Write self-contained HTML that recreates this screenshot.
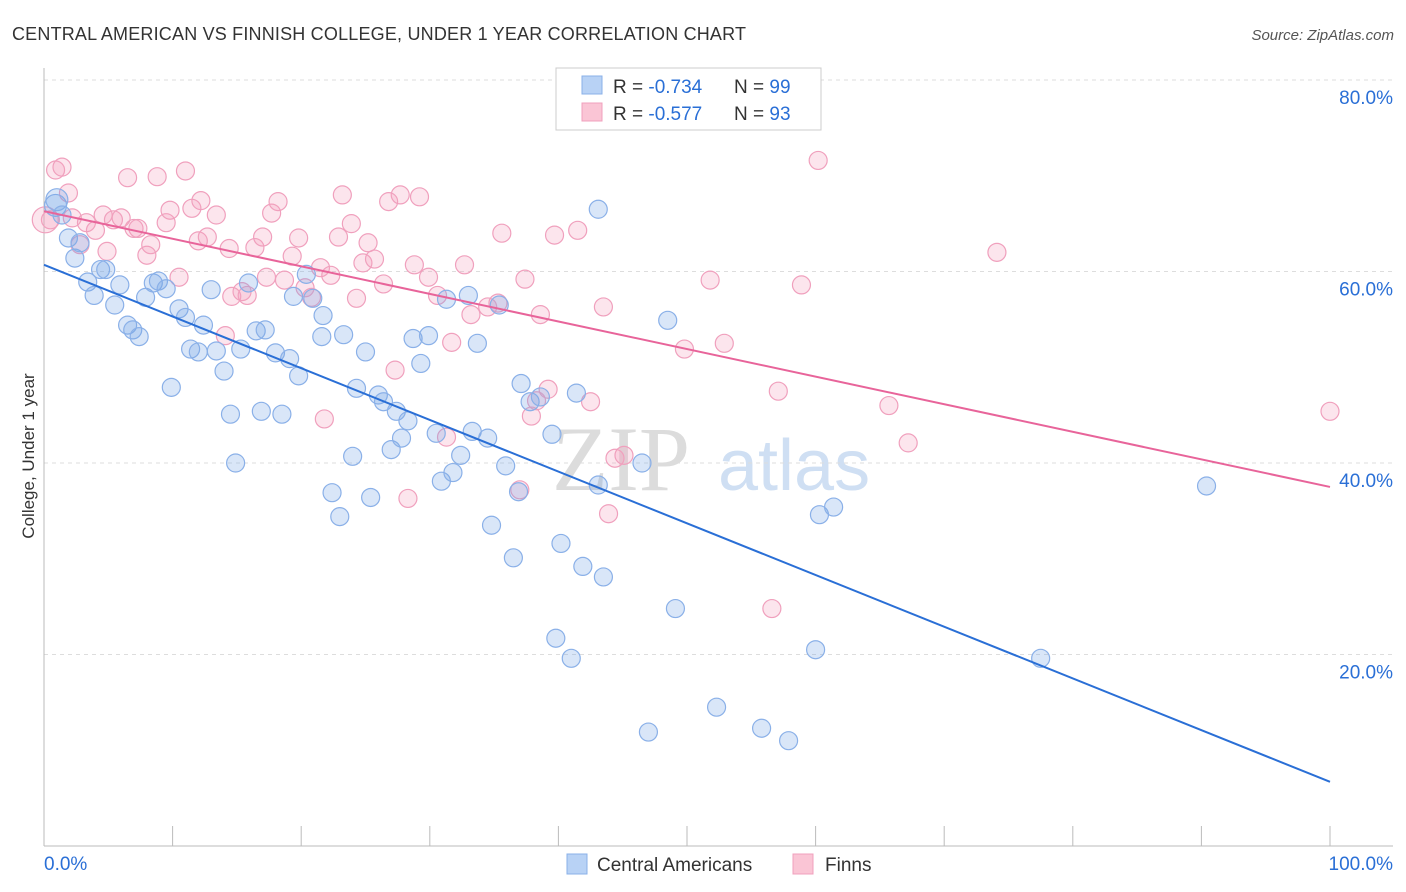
<!DOCTYPE html>
<html><head><meta charset="utf-8"><style>
body{margin:0;background:#fff;font-family:"Liberation Sans",sans-serif;}
#wrap{position:relative;width:1406px;height:892px;overflow:hidden;}
</style></head><body>
<div id="wrap">
<svg id="svg" width="1406" height="892" xmlns="http://www.w3.org/2000/svg">
<text x="12" y="40" font-size="18" fill="#333" textLength="734">CENTRAL AMERICAN VS FINNISH COLLEGE, UNDER 1 YEAR CORRELATION CHART</text>
<text x="1394" y="40" font-size="15" fill="#555" text-anchor="end" font-style="italic">Source: ZipAtlas.com</text>
<text x="34" y="456" font-size="17" fill="#333" text-anchor="middle" transform="rotate(-90 34 456)">College, Under 1 year</text>
<g>
<text x="552" y="490" font-size="92" fill="#dcdcdc" font-family="Liberation Serif,serif">ZIP</text>
<text x="718" y="490" font-size="72" fill="#cfdff3">atlas</text>
</g>
<g id="grid"></g><g id="axes"></g><g id="pts"></g><g id="lines"></g>
<g>
<rect x="556" y="68" width="265" height="62" fill="#fff" stroke="#ccc"/>
<rect x="582" y="76" width="20" height="18" fill="#b8d2f5" stroke="#8ab0e8"/>
<rect x="582" y="103" width="20" height="18" fill="#fac5d5" stroke="#f0a0bd"/>
<text x="613" y="93" font-size="19" fill="#333">R = <tspan fill="#2a6fd6">-0.734</tspan></text>
<text x="734" y="93" font-size="19" fill="#333">N = <tspan fill="#2a6fd6">99</tspan></text>
<text x="613" y="120" font-size="19" fill="#333">R = <tspan fill="#2a6fd6">-0.577</tspan></text>
<text x="734" y="120" font-size="19" fill="#333">N = <tspan fill="#2a6fd6">93</tspan></text>
</g>
<g>
<rect x="567" y="854" width="20" height="20" fill="#b8d2f5" stroke="#8ab0e8"/>
<text x="597" y="871" font-size="19" fill="#333">Central Americans</text>
<rect x="793" y="854" width="20" height="20" fill="#fac5d5" stroke="#f0a0bd"/>
<text x="825" y="871" font-size="19" fill="#333">Finns</text>
</g>
</svg>
</div>
<script>
const yTicks=[20,40,60,80];
const yTickLabels=["20.0%","40.0%","60.0%","80.0%"];
const xTickLabels=["0.0%","100.0%"];
const blueX=[0.9,1.0,1.4,1.9,2.4,2.8,3.4,3.9,4.4,4.8,5.5,5.9,6.5,6.9,7.4,7.9,8.5,8.9,9.5,9.9,10.5,11.0,11.4,12.0,12.4,13.0,13.4,14.0,14.5,14.9,15.3,15.9,16.5,16.9,17.2,18.0,18.5,19.1,19.4,19.8,20.4,20.9,21.7,21.6,22.4,23.0,23.3,24.0,24.3,25.0,25.4,26.0,26.4,27.0,27.4,27.8,28.3,28.7,29.3,29.9,30.5,30.9,31.3,31.8,32.4,33.0,33.3,33.7,34.5,34.8,35.4,35.9,36.5,36.9,37.1,37.8,38.6,39.5,39.8,40.2,41.0,41.4,41.9,43.1,43.1,43.5,46.5,48.5,49.1,52.3,47.0,55.8,57.9,60.0,60.3,61.4,77.5,90.4];
const blueY=[66.9,67.5,65.9,63.5,61.4,63.0,58.9,57.5,60.2,60.2,56.5,58.6,54.4,53.9,53.2,57.3,58.8,59.0,58.2,47.9,56.1,55.2,51.9,51.6,54.4,58.1,51.7,49.6,45.1,40.0,51.9,58.8,53.8,45.4,53.9,51.5,45.1,50.9,57.4,49.1,59.7,57.2,55.4,53.2,36.9,34.4,53.4,40.7,47.8,51.6,36.4,47.1,46.4,41.4,45.4,42.6,44.4,53.0,50.4,53.3,43.1,38.1,57.1,39.0,40.8,57.5,43.3,52.5,42.6,33.5,56.5,39.7,30.1,37.0,48.3,46.4,46.9,43.0,21.7,31.6,19.6,47.3,29.2,66.5,37.7,28.1,40.0,54.9,24.8,14.5,11.9,12.3,11.0,20.5,34.6,35.4,19.6,37.6];
const pinkX=[0.5,0.9,1.4,1.9,2.2,2.8,3.3,4.0,4.6,4.9,5.4,6.0,6.5,7.0,7.3,8.0,8.3,8.8,9.5,9.8,10.5,11.0,11.5,12.0,12.2,12.7,13.4,14.1,14.4,14.6,15.4,15.8,16.4,17.0,17.3,17.7,18.2,18.7,19.3,19.8,20.3,20.8,21.5,21.8,22.3,22.9,23.2,23.9,24.3,24.8,25.2,25.7,26.4,26.8,27.3,27.7,28.3,28.8,29.2,29.9,30.6,31.3,31.7,32.7,33.2,34.5,35.3,35.6,37.0,37.4,37.9,38.3,38.6,39.2,39.7,41.5,42.5,43.5,43.9,44.4,45.1,49.8,51.8,52.9,56.6,57.1,58.9,60.2,65.7,67.2,74.1,100.0,0.1];
const pinkY=[65.4,70.6,70.9,68.2,65.6,62.8,65.1,64.3,65.9,62.1,65.4,65.6,69.8,64.5,64.5,61.7,62.8,69.9,65.1,66.4,59.4,70.5,66.6,63.2,67.4,63.6,65.9,53.3,62.4,57.4,57.9,57.5,62.5,63.6,59.4,66.1,67.3,59.1,61.6,63.5,58.3,57.3,60.4,44.6,59.6,63.6,68.0,65.0,57.2,60.9,63.0,61.3,58.7,67.3,49.7,68.0,36.3,60.7,67.8,59.4,57.5,42.7,52.6,60.7,55.5,56.3,56.7,64.0,37.2,59.2,44.9,46.5,55.5,47.7,63.8,64.3,46.4,56.3,34.7,40.5,40.8,51.9,59.1,52.5,24.8,47.5,58.6,71.6,46.0,42.1,62.0,45.4,65.4];
const blueLine=[60.7,6.7];
const pinkLine=[66.3,37.5];

const NS="http://www.w3.org/2000/svg";
const X0=44,X1=1330,Y0=846,PY=9.575;
const sx=v=>X0+(X1-X0)*v/100;
const sy=v=>Y0-v*PY;
function mk(tag,attrs,parent){const e=document.createElementNS(NS,tag);for(const k in attrs)e.setAttribute(k,attrs[k]);parent.appendChild(e);return e;}
const grid=document.getElementById('grid'),axes=document.getElementById('axes'),pts=document.getElementById('pts'),lines=document.getElementById('lines');
yTicks.forEach((t,i)=>{
 const l=mk('line',{x1:X0,x2:1393,y1:sy(t),y2:sy(t),stroke:'#ddd','stroke-dasharray':'4,4'},grid);
 
 
 const tx=mk('text',{x:1393,y:sy(t)+24,'font-size':19,fill:'#2a6fd6','text-anchor':'end'},axes);
 tx.textContent=yTickLabels[i];
 
 
});
const ax=mk('line',{x1:X0,x2:X0,y1:68,y2:Y0,stroke:'#bbb'},axes);


const bx=mk('line',{x1:X0,x2:1393,y1:Y0,y2:Y0,stroke:'#bbb'},axes);


for(let i=0;i<=10;i++){
 const t=mk('line',{x1:sx(i*10),x2:sx(i*10),y1:826,y2:Y0,stroke:'#bbb'},axes);
 
 
}
[[0,'start'],[100,'end']].forEach((p,i)=>{
 const tx=mk('text',{x:i?1393:44,y:870,'font-size':19,fill:'#2a6fd6','text-anchor':p[1]},axes);
 tx.textContent=xTickLabels[i];
 
 
});
function drawPts(xs,ys,fill,stroke,name){
 xs.forEach((x,i)=>{
  const r=(i===xs.length-1&&name==='finn-point')?13:(name==='central-american-point'&&i<2?11:9);
  const c=mk('circle',{cx:sx(x),cy:sy(ys[i]),r:r,fill:fill,stroke:stroke,'stroke-width':1.2},pts);
  
  
 });
}
drawPts(pinkX,pinkY,'rgba(244,160,190,0.28)','#f0a0bd','finn-point');
drawPts(blueX,blueY,'rgba(120,165,230,0.28)','#8ab0e8','central-american-point');
const bl=mk('line',{x1:sx(0),y1:sy(blueLine[0]),x2:sx(100),y2:sy(blueLine[1]),stroke:'#2a6fd6','stroke-width':2},lines);


const pl=mk('line',{x1:sx(0),y1:sy(pinkLine[0]),x2:sx(100),y2:sy(pinkLine[1]),stroke:'#e8649a','stroke-width':2},lines);


</script>
</body></html>
